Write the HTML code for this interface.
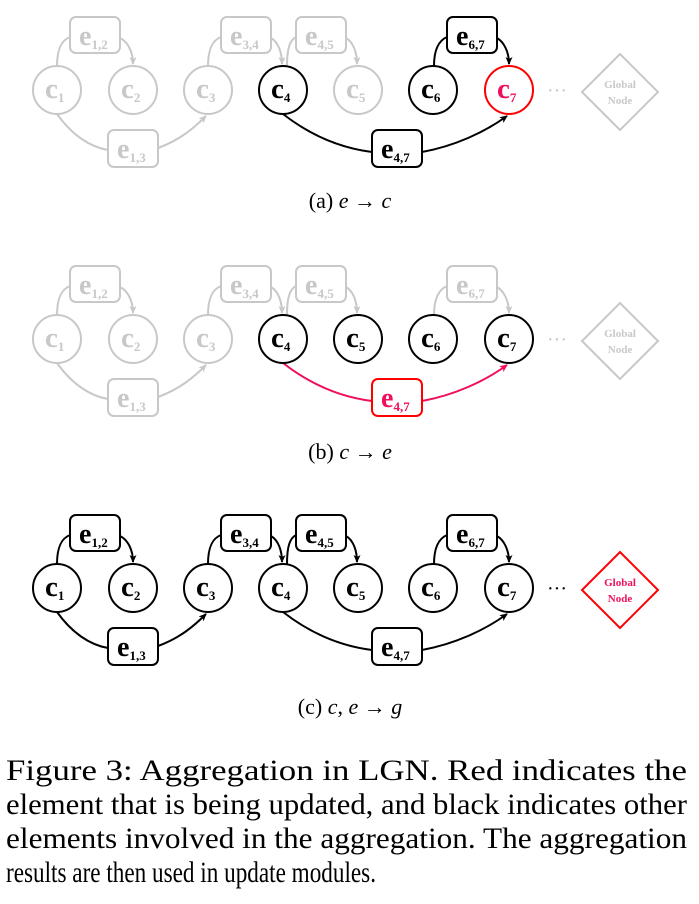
<!DOCTYPE html>
<html><head><meta charset="utf-8"><style>
html,body{margin:0;padding:0;background:#fff;}
svg{display:block;font-family:"Liberation Serif",serif;}
</style></head><body>
<svg width="699" height="904" viewBox="0 0 699 904" xmlns="http://www.w3.org/2000/svg">
<defs>
<marker id="mk" markerWidth="8" markerHeight="8" refX="7" refY="4" orient="auto" markerUnits="userSpaceOnUse"><path d="M0,0.5 L8,4 L0,7.5 L2,4Z" fill="#000"/></marker>
<marker id="mg" markerWidth="8" markerHeight="8" refX="7" refY="4" orient="auto" markerUnits="userSpaceOnUse"><path d="M0,0.5 L8,4 L0,7.5 L2,4Z" fill="#c8c8c8"/></marker>
<marker id="mr" markerWidth="8" markerHeight="8" refX="7" refY="4" orient="auto" markerUnits="userSpaceOnUse"><path d="M0,0.5 L8,4 L0,7.5 L2,4Z" fill="#f0105a"/></marker>
</defs>
<style>
.g{stroke:#c8c8c8;fill:#c8c8c8}
.k{stroke:#000;fill:#000}
.r{stroke:#f0105a;fill:#f0105a}
path.e{fill:none;stroke-width:2}
.n{fill:#fff;stroke-width:2}
.t{font-weight:bold;stroke:none}
</style>

<!-- PANEL A -->
<g transform="translate(0,0)">
 <path class="e g" d="M57,66 C57,48 62,40 70,37" /><path class="e g" d="M120,38 C128,42 133,52 133,64" marker-end="url(#mg)"/>
 <path class="e g" d="M57,114 C72,135 90,147 108,150"/><path class="e g" d="M158,148 C180,140 194,128 206,116" marker-end="url(#mg)"/>
 <path class="e g" d="M208,66 C208,48 213,40 221,37"/><path class="e g" d="M271,38 C278,42 282,52 282,64" marker-end="url(#mg)"/>
 <path class="e g" d="M287,66 C287,48 290,40 296,37"/><path class="e g" d="M346,38 C353,42 357,52 357,64" marker-end="url(#mg)"/>
 <path class="e k" d="M434,66 C434,48 440,40 447,37"/><path class="e k" d="M497,38 C504,42 509,52 509,64" marker-end="url(#mk)"/>
 <path class="e k" d="M283,114 C310,135 340,148 372,152"/><path class="e k" d="M422,152 C455,146 485,132 507,116" marker-end="url(#mk)"/>
 <g class="g"><rect class="n" x="70" y="17" width="50" height="36" rx="6" stroke="#c8c8c8"/><text class="t" x="79" y="45" font-size="28">e<tspan font-size="13" dy="4">1,2</tspan></text></g>
 <g class="g"><rect class="n" x="108" y="130" width="50" height="37" rx="6" stroke="#c8c8c8"/><text class="t" x="117" y="158" font-size="28">e<tspan font-size="13" dy="4">1,3</tspan></text></g>
 <g class="g"><rect class="n" x="221" y="17" width="50" height="36" rx="6" stroke="#c8c8c8"/><text class="t" x="230" y="45" font-size="28">e<tspan font-size="13" dy="4">3,4</tspan></text></g>
 <g class="g"><rect class="n" x="296" y="17" width="50" height="36" rx="6" stroke="#c8c8c8"/><text class="t" x="305" y="45" font-size="28">e<tspan font-size="13" dy="4">4,5</tspan></text></g>
 <g class="k"><rect class="n" x="447" y="17" width="50" height="36" rx="6" stroke="#000"/><text class="t" x="456" y="45" font-size="28">e<tspan font-size="13" dy="4">6,7</tspan></text></g>
 <g class="k"><rect class="n" x="372" y="130" width="50" height="37" rx="6" stroke="#000"/><text class="t" x="381" y="158" font-size="28">e<tspan font-size="13" dy="4">4,7</tspan></text></g>
 <g class="g"><circle class="n" cx="57" cy="90" r="24" stroke="#c8c8c8"/><text class="t" x="45" y="98" font-size="29">c<tspan font-size="13" dy="4">1</tspan></text></g>
 <g class="g"><circle class="n" cx="133" cy="90" r="24" stroke="#c8c8c8"/><text class="t" x="121" y="98" font-size="29">c<tspan font-size="13" dy="4">2</tspan></text></g>
 <g class="g"><circle class="n" cx="208" cy="90" r="24" stroke="#c8c8c8"/><text class="t" x="196" y="98" font-size="29">c<tspan font-size="13" dy="4">3</tspan></text></g>
 <g class="k"><circle class="n" cx="283" cy="90" r="24" stroke="#000"/><text class="t" x="271" y="98" font-size="29">c<tspan font-size="13" dy="4">4</tspan></text></g>
 <g class="g"><circle class="n" cx="358" cy="90" r="24" stroke="#c8c8c8"/><text class="t" x="346" y="98" font-size="29">c<tspan font-size="13" dy="4">5</tspan></text></g>
 <g class="k"><circle class="n" cx="433" cy="90" r="24" stroke="#000"/><text class="t" x="421" y="98" font-size="29">c<tspan font-size="13" dy="4">6</tspan></text></g>
 <g class="r"><circle class="n" cx="509" cy="90" r="24" stroke="#f00"/><text class="t" x="497" y="98" font-size="29">c<tspan font-size="13" dy="4">7</tspan></text></g>
 <text x="547" y="97" font-size="20" fill="#c8c8c8">···</text>
 <path d="M620,54 L658,92 L620,130 L582,92Z" fill="#fff" stroke="#c8c8c8" stroke-width="2"/>
 <text x="620" y="88" font-size="11" font-weight="bold" fill="#c8c8c8" text-anchor="middle">Global</text>
 <text x="620" y="104" font-size="11" font-weight="bold" fill="#c8c8c8" text-anchor="middle">Node</text>
 <text x="350" y="208" font-size="22" text-anchor="middle">(a)  <tspan font-style="italic">e</tspan> → <tspan font-style="italic">c</tspan></text>
</g>

<!-- PANEL B -->
<g transform="translate(0,249)">
 <path class="e g" d="M57,66 C57,48 62,40 70,37" /><path class="e g" d="M120,38 C128,42 133,52 133,64" marker-end="url(#mg)"/>
 <path class="e g" d="M57,114 C72,135 90,147 108,150"/><path class="e g" d="M158,148 C180,140 194,128 206,116" marker-end="url(#mg)"/>
 <path class="e g" d="M208,66 C208,48 213,40 221,37"/><path class="e g" d="M271,38 C278,42 282,52 282,64" marker-end="url(#mg)"/>
 <path class="e g" d="M287,66 C287,48 290,40 296,37"/><path class="e g" d="M346,38 C353,42 357,52 357,64" marker-end="url(#mg)"/>
 <path class="e g" d="M434,66 C434,48 440,40 447,37"/><path class="e g" d="M497,38 C504,42 509,52 509,64" marker-end="url(#mg)"/>
 <path class="e r" d="M283,114 C310,135 340,148 372,152"/><path class="e r" d="M422,152 C455,146 485,132 507,116" marker-end="url(#mr)"/>
 <g class="g"><rect class="n" x="70" y="17" width="50" height="36" rx="6" stroke="#c8c8c8"/><text class="t" x="79" y="45" font-size="28">e<tspan font-size="13" dy="4">1,2</tspan></text></g>
 <g class="g"><rect class="n" x="108" y="130" width="50" height="37" rx="6" stroke="#c8c8c8"/><text class="t" x="117" y="158" font-size="28">e<tspan font-size="13" dy="4">1,3</tspan></text></g>
 <g class="g"><rect class="n" x="221" y="17" width="50" height="36" rx="6" stroke="#c8c8c8"/><text class="t" x="230" y="45" font-size="28">e<tspan font-size="13" dy="4">3,4</tspan></text></g>
 <g class="g"><rect class="n" x="296" y="17" width="50" height="36" rx="6" stroke="#c8c8c8"/><text class="t" x="305" y="45" font-size="28">e<tspan font-size="13" dy="4">4,5</tspan></text></g>
 <g class="g"><rect class="n" x="447" y="17" width="50" height="36" rx="6" stroke="#c8c8c8"/><text class="t" x="456" y="45" font-size="28">e<tspan font-size="13" dy="4">6,7</tspan></text></g>
 <g class="r"><rect class="n" x="372" y="130" width="50" height="37" rx="6" stroke="#f00"/><text class="t" x="381" y="158" font-size="28">e<tspan font-size="13" dy="4">4,7</tspan></text></g>
 <g class="g"><circle class="n" cx="57" cy="90" r="24" stroke="#c8c8c8"/><text class="t" x="45" y="98" font-size="29">c<tspan font-size="13" dy="4">1</tspan></text></g>
 <g class="g"><circle class="n" cx="133" cy="90" r="24" stroke="#c8c8c8"/><text class="t" x="121" y="98" font-size="29">c<tspan font-size="13" dy="4">2</tspan></text></g>
 <g class="g"><circle class="n" cx="208" cy="90" r="24" stroke="#c8c8c8"/><text class="t" x="196" y="98" font-size="29">c<tspan font-size="13" dy="4">3</tspan></text></g>
 <g class="k"><circle class="n" cx="283" cy="90" r="24" stroke="#000"/><text class="t" x="271" y="98" font-size="29">c<tspan font-size="13" dy="4">4</tspan></text></g>
 <g class="k"><circle class="n" cx="358" cy="90" r="24" stroke="#000"/><text class="t" x="346" y="98" font-size="29">c<tspan font-size="13" dy="4">5</tspan></text></g>
 <g class="k"><circle class="n" cx="433" cy="90" r="24" stroke="#000"/><text class="t" x="421" y="98" font-size="29">c<tspan font-size="13" dy="4">6</tspan></text></g>
 <g class="k"><circle class="n" cx="509" cy="90" r="24" stroke="#000"/><text class="t" x="497" y="98" font-size="29">c<tspan font-size="13" dy="4">7</tspan></text></g>
 <text x="547" y="97" font-size="20" fill="#c8c8c8">···</text>
 <path d="M620,54 L658,92 L620,130 L582,92Z" fill="#fff" stroke="#c8c8c8" stroke-width="2"/>
 <text x="620" y="88" font-size="11" font-weight="bold" fill="#c8c8c8" text-anchor="middle">Global</text>
 <text x="620" y="104" font-size="11" font-weight="bold" fill="#c8c8c8" text-anchor="middle">Node</text>
 <text x="350" y="210" font-size="22" text-anchor="middle">(b)  <tspan font-style="italic">c</tspan> → <tspan font-style="italic">e</tspan></text>
</g>

<!-- PANEL C -->
<g transform="translate(0,498)">
 <path class="e k" d="M57,66 C57,48 62,40 70,37" /><path class="e k" d="M120,38 C128,42 133,52 133,64" marker-end="url(#mk)"/>
 <path class="e k" d="M57,114 C72,135 90,147 108,150"/><path class="e k" d="M158,148 C180,140 194,128 206,116" marker-end="url(#mk)"/>
 <path class="e k" d="M208,66 C208,48 213,40 221,37"/><path class="e k" d="M271,38 C278,42 282,52 282,64" marker-end="url(#mk)"/>
 <path class="e k" d="M287,66 C287,48 290,40 296,37"/><path class="e k" d="M346,38 C353,42 357,52 357,64" marker-end="url(#mk)"/>
 <path class="e k" d="M434,66 C434,48 440,40 447,37"/><path class="e k" d="M497,38 C504,42 509,52 509,64" marker-end="url(#mk)"/>
 <path class="e k" d="M283,114 C310,135 340,148 372,152"/><path class="e k" d="M422,152 C455,146 485,132 507,116" marker-end="url(#mk)"/>
 <g class="k"><rect class="n" x="70" y="17" width="50" height="36" rx="6" stroke="#000"/><text class="t" x="79" y="45" font-size="28">e<tspan font-size="13" dy="4">1,2</tspan></text></g>
 <g class="k"><rect class="n" x="108" y="130" width="50" height="37" rx="6" stroke="#000"/><text class="t" x="117" y="158" font-size="28">e<tspan font-size="13" dy="4">1,3</tspan></text></g>
 <g class="k"><rect class="n" x="221" y="17" width="50" height="36" rx="6" stroke="#000"/><text class="t" x="230" y="45" font-size="28">e<tspan font-size="13" dy="4">3,4</tspan></text></g>
 <g class="k"><rect class="n" x="296" y="17" width="50" height="36" rx="6" stroke="#000"/><text class="t" x="305" y="45" font-size="28">e<tspan font-size="13" dy="4">4,5</tspan></text></g>
 <g class="k"><rect class="n" x="447" y="17" width="50" height="36" rx="6" stroke="#000"/><text class="t" x="456" y="45" font-size="28">e<tspan font-size="13" dy="4">6,7</tspan></text></g>
 <g class="k"><rect class="n" x="372" y="130" width="50" height="37" rx="6" stroke="#000"/><text class="t" x="381" y="158" font-size="28">e<tspan font-size="13" dy="4">4,7</tspan></text></g>
 <g class="k"><circle class="n" cx="57" cy="90" r="24" stroke="#000"/><text class="t" x="45" y="98" font-size="29">c<tspan font-size="13" dy="4">1</tspan></text></g>
 <g class="k"><circle class="n" cx="133" cy="90" r="24" stroke="#000"/><text class="t" x="121" y="98" font-size="29">c<tspan font-size="13" dy="4">2</tspan></text></g>
 <g class="k"><circle class="n" cx="208" cy="90" r="24" stroke="#000"/><text class="t" x="196" y="98" font-size="29">c<tspan font-size="13" dy="4">3</tspan></text></g>
 <g class="k"><circle class="n" cx="283" cy="90" r="24" stroke="#000"/><text class="t" x="271" y="98" font-size="29">c<tspan font-size="13" dy="4">4</tspan></text></g>
 <g class="k"><circle class="n" cx="358" cy="90" r="24" stroke="#000"/><text class="t" x="346" y="98" font-size="29">c<tspan font-size="13" dy="4">5</tspan></text></g>
 <g class="k"><circle class="n" cx="433" cy="90" r="24" stroke="#000"/><text class="t" x="421" y="98" font-size="29">c<tspan font-size="13" dy="4">6</tspan></text></g>
 <g class="k"><circle class="n" cx="509" cy="90" r="24" stroke="#000"/><text class="t" x="497" y="98" font-size="29">c<tspan font-size="13" dy="4">7</tspan></text></g>
 <text x="547" y="97" font-size="20" fill="#000">···</text>
 <path d="M620,54 L658,92 L620,130 L582,92Z" fill="#fff" stroke="#f00" stroke-width="2"/>
 <text x="620" y="88" font-size="11" font-weight="bold" fill="#f0105a" text-anchor="middle">Global</text>
 <text x="620" y="104" font-size="11" font-weight="bold" fill="#f0105a" text-anchor="middle">Node</text>
 <text x="350" y="216" font-size="22" text-anchor="middle">(c)  <tspan font-style="italic">c</tspan>, <tspan font-style="italic">e</tspan> → <tspan font-style="italic">g</tspan></text>
</g>

<!-- CAPTION -->
<g font-size="30" fill="#000">
 <text x="6" y="780" textLength="681" lengthAdjust="spacingAndGlyphs">Figure 3:  Aggregation  in  LGN.  Red  indicates  the</text>
 <text x="6" y="814" textLength="681" lengthAdjust="spacingAndGlyphs">element that is being updated, and black indicates other</text>
 <text x="6" y="848" textLength="681" lengthAdjust="spacingAndGlyphs">elements involved in the aggregation. The aggregation</text>
 <text x="6" y="882" textLength="370" lengthAdjust="spacingAndGlyphs">results are then used in update modules.</text>
</g>
</svg>
</body></html>
